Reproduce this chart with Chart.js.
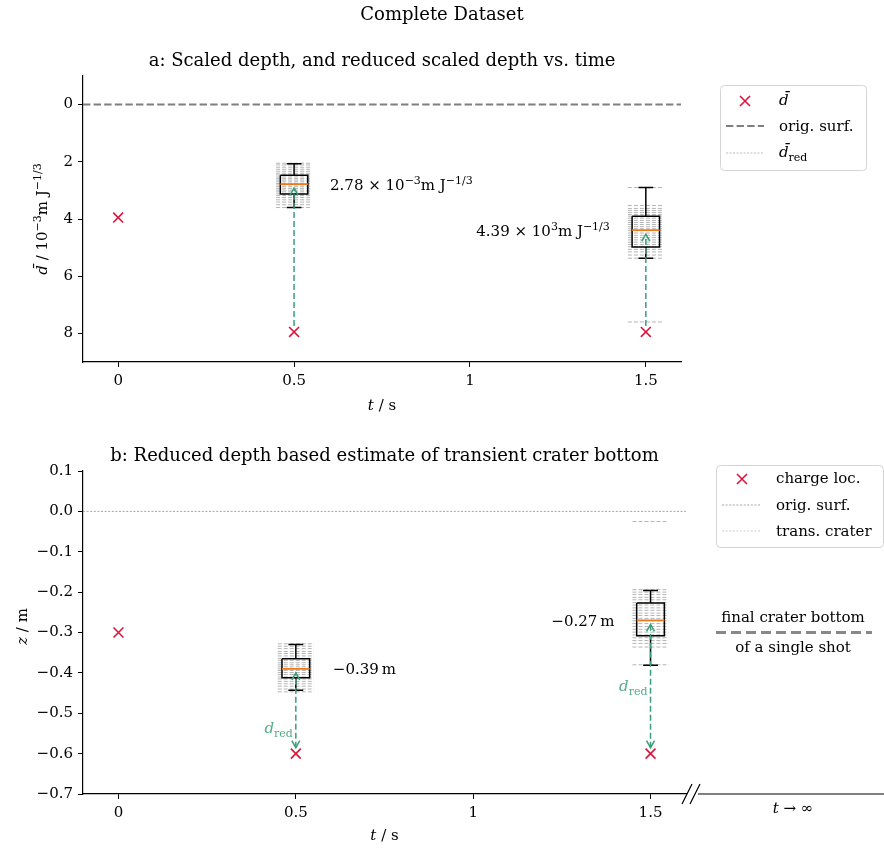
<!DOCTYPE html>
<html>
<head>
<meta charset="utf-8">
<script src="https://cdn.jsdelivr.net/npm/chart.js@4/dist/chart.umd.min.js"></script>
<style>
html,body{margin:0;padding:0;background:#fff;}
#wrap{position:relative;width:884px;height:852px;}
#wrap canvas{position:absolute;left:0;}
</style>
</head>
<body>
<div id="wrap">
  <canvas id="chart-a" width="884" height="420" style="top:0"></canvas>
  <canvas id="chart-b" width="884" height="432" style="top:420px"></canvas>
</div>
<script>
/* ── DATA ── */

var xTicks = [0, 0.5, 1, 1.5];
var xTickLabels = ['0', '0.5', '1', '1.5'];

// a: scaled depth (10^-3 m J^-1/3)
var yTicksA = [0, 2, 4, 6, 8];
var yTickLabelsA = ['0', '2', '4', '6', '8'];
var markTimes = [0, 0.5, 1.5];
var dBar = [3.95, 7.95, 7.95];
var boxTimes = [0.5, 1.5];
var dRedWhiskTop = [2.07, 2.9];
var dRedQ1 = [2.47, 3.9];
var dRedMed = [2.78, 4.39];
var dRedQ3 = [3.13, 4.98];
var dRedWhiskBot = [3.6, 5.37];
var dRedShots05 = [2.05, 2.11, 2.19, 2.26, 2.33, 2.4, 2.46, 2.53, 2.59, 2.64, 2.7, 2.76, 2.81, 2.87, 2.93, 2.99, 3.05, 3.12, 3.18, 3.25, 3.33, 3.41, 3.5, 3.6];
var dRedShots15 = [2.9, 3.53, 3.63, 3.7, 3.77, 3.84, 3.9, 3.97, 4.05, 4.12, 4.19, 4.27, 4.34, 4.41, 4.49, 4.57, 4.65, 4.73, 4.81, 4.89, 4.97, 5.06, 5.15, 5.26, 5.37, 7.6];
var medExpA = ['\u22123', '3'];

// b: crater bottom estimate (m)
var yTicksB = [0.1, 0.0, -0.1, -0.2, -0.3, -0.4, -0.5, -0.6, -0.7];
var yTickLabelsB = ['0.1', '0.0', '\u22120.1', '\u22120.2', '\u22120.3', '\u22120.4', '\u22120.5', '\u22120.6', '\u22120.7'];
var zCharge = [-0.3, -0.6, -0.6];
var zWhiskTop = [-0.330, -0.196];
var zQ3 = [-0.365, -0.227];
var zMed = [-0.39, -0.27];
var zQ1 = [-0.412, -0.308];
var zWhiskBot = [-0.443, -0.381];
var zShots05 = [-0.328, -0.334, -0.34, -0.347, -0.352, -0.358, -0.364, -0.369, -0.375, -0.38, -0.385, -0.39, -0.394, -0.399, -0.404, -0.41, -0.415, -0.421, -0.427, -0.433, -0.44, -0.447];
var zShots15 = [-0.025, -0.194, -0.2, -0.206, -0.213, -0.219, -0.226, -0.232, -0.239, -0.245, -0.252, -0.258, -0.265, -0.271, -0.278, -0.285, -0.292, -0.299, -0.306, -0.313, -0.32, -0.327, -0.336, -0.38];
var dRedLabelZ = [-0.535, -0.432];
var zFinal = -0.3;

/* ── STYLE ── */

var SERIF = '"DejaVu Serif", serif';
var RED = '#dc143c';
var GREEN = '#3a9f7a';
var SHOT_GRAY = '#b4b4b4';
var BOX_HW = 0.039, CAP_HW = 0.021, SHOT_HW = 0.051;

function fnt(size, italic){ return (italic ? 'italic ' : '') + size + 'px ' + SERIF; }

// segs: [[text, kind]] kind: r | i | sup | sub
function drawRich(ctx, segs, x, y, size, align, color){
  var parts = segs.map(function(s){
    var kind = s[1] || 'r';
    var small = kind === 'sup' || kind === 'sub';
    var sz = small ? Math.round(size * 0.7) : size;
    ctx.font = fnt(sz, kind === 'i');
    return {t: s[0], font: ctx.font, w: ctx.measureText(s[0]).width,
      dy: kind === 'sup' ? -size * 0.4 : (kind === 'sub' ? size * 0.25 : 0)};
  });
  var total = 0;
  parts.forEach(function(p){ total += p.w; });
  var sx = align === 'center' ? x - total / 2 : (align === 'right' ? x - total : x);
  ctx.save();
  ctx.fillStyle = color || '#000';
  ctx.textAlign = 'left';
  ctx.textBaseline = 'alphabetic';
  var base = y + size * 0.36;
  parts.forEach(function(p){ ctx.font = p.font; ctx.fillText(p.t, sx, base + p.dy); sx += p.w; });
  ctx.restore();
}

function hline(ctx, x1, x2, y, color, width, dash){
  ctx.save();
  ctx.strokeStyle = color; ctx.lineWidth = width; ctx.setLineDash(dash || []);
  ctx.beginPath(); ctx.moveTo(x1, y); ctx.lineTo(x2, y); ctx.stroke();
  ctx.restore();
}

function drawCross(ctx, x, y, r, color){
  ctx.save();
  ctx.strokeStyle = color; ctx.lineWidth = 1.6;
  ctx.beginPath();
  ctx.moveTo(x - r, y - r); ctx.lineTo(x + r, y + r);
  ctx.moveTo(x - r, y + r); ctx.lineTo(x + r, y - r);
  ctx.stroke();
  ctx.restore();
}

function legendFrame(ctx, x, y, w, h){
  ctx.save();
  ctx.fillStyle = 'rgba(255,255,255,0.8)';
  ctx.strokeStyle = '#d4d4d4'; ctx.lineWidth = 1;
  ctx.beginPath();
  if(ctx.roundRect) ctx.roundRect(x + 0.5, y + 0.5, w, h, 4); else ctx.rect(x + 0.5, y + 0.5, w, h);
  ctx.fill(); ctx.stroke();
  ctx.restore();
}

function arrow(ctx, x, yFrom, yTo, both){
  var dir = yTo < yFrom ? -1 : 1;
  var y0 = yFrom + dir * 6, y1 = yTo - dir * 4;
  ctx.save();
  ctx.strokeStyle = GREEN; ctx.lineWidth = 1.5;
  ctx.setLineDash([6, 3]);
  ctx.beginPath(); ctx.moveTo(x, y0); ctx.lineTo(x, y1); ctx.stroke();
  ctx.setLineDash([]);
  ctx.beginPath();
  ctx.moveTo(x - 4, y1 - dir * 7); ctx.lineTo(x, y1); ctx.lineTo(x + 4, y1 - dir * 7);
  if(both){
    ctx.moveTo(x - 4, y0 + dir * 7); ctx.lineTo(x, y0); ctx.lineTo(x + 4, y0 + dir * 7);
  }
  ctx.stroke();
  ctx.restore();
}

/* ── dataset builders (polylines split by null points) ── */

function polyData(lines){
  var out = [];
  lines.forEach(function(pts){
    pts.forEach(function(p){ out.push({x: p[0], y: p[1]}); });
    out.push({x: pts[0][0], y: null});
  });
  return out;
}

function boxPolys(t, wTop, q1, q3, wBot){
  return [
    [[t - BOX_HW, q1], [t + BOX_HW, q1], [t + BOX_HW, q3], [t - BOX_HW, q3], [t - BOX_HW, q1]],
    [[t, q1], [t, wTop]], [[t - CAP_HW, wTop], [t + CAP_HW, wTop]],
    [[t, q3], [t, wBot]], [[t - CAP_HW, wBot], [t + CAP_HW, wBot]]
  ];
}

function shotPolys(t, vals){
  return vals.map(function(v){ return [[t - SHOT_HW, v], [t + SHOT_HW, v]]; });
}

function buildDatasets(markY, wTop, q1, med, q3, wBot, shots05, shots15){
  var boxes = [], meds = [];
  boxTimes.forEach(function(t, i){
    boxes = boxes.concat(boxPolys(t, wTop[i], q1[i], q3[i], wBot[i]));
    meds.push([[t - BOX_HW, med[i]], [t + BOX_HW, med[i]]]);
  });
  var shots = shotPolys(boxTimes[0], shots05).concat(shotPolys(boxTimes[1], shots15));
  var lineDs = function(data, color, width, dash){
    return {data: data, showLine: true, spanGaps: false, pointRadius: 0, borderColor: color,
      borderWidth: width, borderDash: dash || [], tension: 0, borderJoinStyle: 'miter', borderCapStyle: 'butt'};
  };
  return [
    {data: markTimes.map(function(t, i){ return {x: t, y: markY[i]}; }),
      pointStyle: 'crossRot', pointRadius: 7, borderWidth: 1.6, borderColor: RED, backgroundColor: RED},
    lineDs(polyData(meds), '#ee7a1c', 1.6),
    lineDs(polyData(boxes), '#000', 1.5),
    lineDs(polyData(shots), SHOT_GRAY, 1, [4, 2])
  ];
}

/* ── shared axis options ── */

function xAxis(){
  return {
    type: 'linear', min: -0.1, max: 1.6,
    afterBuildTicks: function(s){ s.ticks = xTicks.map(function(v){ return {value: v}; }); },
    afterFit: function(s){ s.height = 50; },
    ticks: {callback: function(v, i){ return xTickLabels[i]; }, font: {family: SERIF, size: 15},
      color: '#000', padding: 5, maxRotation: 0, autoSkip: false},
    grid: {drawOnChartArea: false, drawTicks: true, tickLength: 5, color: '#000', tickWidth: 1},
    border: {display: true, color: '#000', width: 1.2}
  };
}

function yAxis(min, max, reverse, ticks, labels){
  return {
    type: 'linear', min: min, max: max, reverse: reverse,
    afterBuildTicks: function(s){ s.ticks = ticks.map(function(v){ return {value: v}; }); },
    afterFit: function(s){ s.width = 50; },
    ticks: {callback: function(v, i){ return labels[i]; }, font: {family: SERIF, size: 15},
      color: '#000', padding: 5, autoSkip: false},
    grid: {drawOnChartArea: false, drawTicks: true, tickLength: 5, color: '#000', tickWidth: 1},
    border: {display: true, color: '#000', width: 1.2}
  };
}

var baseOpts = {responsive: false, animation: false, events: [],
  plugins: {legend: {display: false}, tooltip: {enabled: false}}};

/* ── CHART A ── */

var plugA = {
  id: 'decorA',
  beforeDatasetsDraw: function(chart){
    var ca = chart.chartArea, ys = chart.scales.y;
    hline(chart.ctx, ca.left, ca.right, ys.getPixelForValue(0), '#7f7f7f', 2, [7.4, 3.2]);
  },
  afterDatasetsDraw: function(chart){
    var ctx = chart.ctx, xs = chart.scales.x, ys = chart.scales.y;
    boxTimes.forEach(function(t, i){
      var m = dBar[markTimes.indexOf(t)];
      arrow(ctx, xs.getPixelForValue(t), ys.getPixelForValue(m), ys.getPixelForValue(dRedMed[i]), false);
    });
  },
  afterDraw: function(chart){
    var ctx = chart.ctx, ca = chart.chartArea, xs = chart.scales.x, ys = chart.scales.y;
    var cx = (ca.left + ca.right) / 2;
    drawRich(ctx, [['Complete Dataset']], 442, 14, 18, 'center');
    drawRich(ctx, [['a: Scaled depth, and reduced scaled depth vs. time']], cx, 60, 18, 'center');
    drawRich(ctx, [['t', 'i'], [' / s']], cx, 405, 15, 'center');
    ctx.save();
    ctx.translate(42, (ca.top + ca.bottom) / 2);
    ctx.rotate(-Math.PI / 2);
    drawRich(ctx, [['d\u0304', 'i'], [' / 10'], ['\u22123', 'sup'], ['m J'], ['\u22121/3', 'sup']], 0, 0, 15, 'center');
    ctx.restore();

    // median annotations
    boxTimes.forEach(function(t, i){
      var px = xs.getPixelForValue(t), py = ys.getPixelForValue(dRedMed[i]);
      var segs = [[dRedMed[i].toFixed(2) + ' \u00d7 10'], [medExpA[i], 'sup'], ['m J'], ['\u22121/3', 'sup']];
      if(i === 0) drawRich(ctx, segs, px + 36, py, 15, 'left');
      else drawRich(ctx, segs, px - 36, py, 15, 'right');
    });

    // legend
    legendFrame(ctx, 720, 85, 146, 85);
    drawCross(ctx, 745, 101, 5, RED);
    drawRich(ctx, [['d\u0304', 'i']], 779, 100, 15, 'left');
    hline(ctx, 726, 764, 126, '#7f7f7f', 2, [7.4, 3.2]);
    drawRich(ctx, [['orig. surf.']], 779, 126, 15, 'left');
    hline(ctx, 726, 764, 153, SHOT_GRAY, 0.9, [2, 1.5]);
    drawRich(ctx, [['d\u0304', 'i'], ['red', 'sub']], 779, 152, 15, 'left');
  }
};

new Chart(document.getElementById('chart-a'), {
  type: 'scatter',
  data: {datasets: buildDatasets(dBar, dRedWhiskTop, dRedQ1, dRedMed, dRedQ3, dRedWhiskBot, dRedShots05, dRedShots15)},
  options: Object.assign({}, baseOpts, {
    layout: {padding: {left: 33, right: 203, top: 76, bottom: 8}},
    scales: {x: xAxis(), y: yAxis(-1, 9, true, yTicksA, yTickLabelsA)}
  }),
  plugins: [plugA]
});

/* ── CHART B ── */

var plugB = {
  id: 'decorB',
  beforeDatasetsDraw: function(chart){
    var ca = chart.chartArea, ys = chart.scales.y;
    hline(chart.ctx, ca.left, ca.right, ys.getPixelForValue(0), '#9a9a9a', 0.9, [2, 1.6]);
  },
  afterDatasetsDraw: function(chart){
    var ctx = chart.ctx, xs = chart.scales.x, ys = chart.scales.y;
    boxTimes.forEach(function(t, i){
      var m = zCharge[markTimes.indexOf(t)];
      arrow(ctx, xs.getPixelForValue(t), ys.getPixelForValue(m), ys.getPixelForValue(zMed[i]), true);
    });
  },
  afterDraw: function(chart){
    var ctx = chart.ctx, ca = chart.chartArea, xs = chart.scales.x, ys = chart.scales.y;
    var cx = (ca.left + ca.right) / 2;
    drawRich(ctx, [['b: Reduced depth based estimate of transient crater bottom']], cx, 35, 18, 'center');
    drawRich(ctx, [['t', 'i'], [' / s']], cx, 415, 15, 'center');
    ctx.save();
    ctx.translate(22, (ca.top + ca.bottom) / 2 - 6);
    ctx.rotate(-Math.PI / 2);
    drawRich(ctx, [['z', 'i'], [' / m']], 0, 0, 15, 'center');
    ctx.restore();

    boxTimes.forEach(function(t, i){
      var px = xs.getPixelForValue(t), py = ys.getPixelForValue(zMed[i]);
      var txt = [[zMed[i].toFixed(2).replace('-', '\u2212') + '\u2009m']];
      if(i === 0) drawRich(ctx, txt, px + 37, py, 15, 'left');
      else drawRich(ctx, txt, px - 36, py, 15, 'right');
      drawRich(ctx, [['d', 'i'], ['red', 'sub']], px - 3, ys.getPixelForValue(dRedLabelZ[i]), 15, 'right', '#52ad88');
    });

    // broken x axis towards t -> infinity
    var yb = ca.bottom;
    ctx.save();
    ctx.strokeStyle = '#000'; ctx.lineWidth = 1.2;
    ctx.beginPath();
    ctx.moveTo(698, yb); ctx.lineTo(884, yb);
    [687, 695].forEach(function(x){ ctx.moveTo(x - 5, yb + 10); ctx.lineTo(x + 5, yb - 10); });
    ctx.stroke();
    ctx.restore();
    drawRich(ctx, [['t', 'i'], [' \u2192 \u221e']], 793, yb + 14, 15, 'center');

    var yf = ys.getPixelForValue(zFinal);
    hline(ctx, 716, 872, yf, '#888888', 3, [10, 5]);
    drawRich(ctx, [['final crater bottom']], 793, yf - 16, 15, 'center');
    drawRich(ctx, [['of a single shot']], 793, yf + 14, 15, 'center');

    // legend
    legendFrame(ctx, 716, 45, 167, 82);
    drawCross(ctx, 742, 59, 5, RED);
    drawRich(ctx, [['charge loc.']], 776, 58, 15, 'left');
    hline(ctx, 722, 761, 85, '#9a9a9a', 0.9, [2, 1.6]);
    drawRich(ctx, [['orig. surf.']], 776, 85, 15, 'left');
    hline(ctx, 722, 761, 111, '#c8c8c8', 0.9, [2, 1.6]);
    drawRich(ctx, [['trans. crater']], 776, 111, 15, 'left');
  }
};

new Chart(document.getElementById('chart-b'), {
  type: 'scatter',
  data: {datasets: buildDatasets(zCharge, zWhiskTop, zQ3, zMed, zQ1, zWhiskBot, zShots05, zShots15)},
  options: Object.assign({}, baseOpts, {
    layout: {padding: {left: 33, right: 198, top: 51, bottom: 8}},
    scales: {x: xAxis(), y: yAxis(-0.7, 0.1, false, yTicksB, yTickLabelsB)}
  }),
  plugins: [plugB]
});
</script>
</body>
</html>
